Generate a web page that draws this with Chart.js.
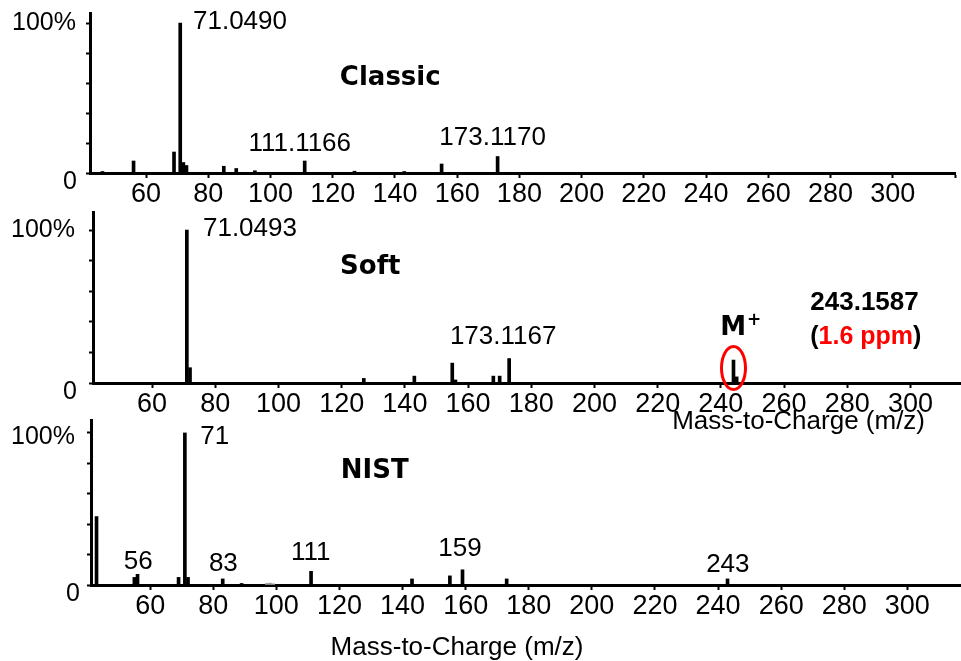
<!DOCTYPE html>
<html>
<head>
<meta charset="utf-8">
<script src="https://cdn.jsdelivr.net/npm/chart.js@4.4.1/dist/chart.umd.min.js"></script>
<style>
html,body{margin:0;padding:0;background:#fff;overflow:hidden;width:961px;height:661px}
canvas{position:absolute;left:0;top:0}
</style>
</head>
<body>
<canvas id="c1" width="961" height="661"></canvas>
<canvas id="c2" width="961" height="661"></canvas>
<canvas id="c3" width="961" height="661"></canvas>
<script>
// ---------- data ----------
const classicMz  = [46, 56, 69, 71, 72, 73, 85, 89, 95, 111, 127, 143, 155, 173];
const classicInt = [1, 8, 14, 100, 7, 5, 4.5, 3, 1.5, 8, 1.2, 1, 6, 11];

const softMz  = [71, 72, 127, 143, 155, 156, 168, 170, 173, 244, 245];
const softInt = [100, 10, 3, 4.5, 13, 2, 4.5, 4.5, 16, 15, 4];

const nistMz  = [43, 55, 56, 69, 71, 72, 83, 89, 111, 143, 155, 159, 173, 243];
const nistInt = [45, 5, 7, 5, 100, 5, 4, 1, 9, 4, 6, 10, 4, 4];
const nistMinorMz  = [97, 98, 99];
const nistMinorInt = [1, 1.2, 0.8];

const xTicks = [60, 80, 100, 120, 140, 160, 180, 200, 220, 240, 260, 280, 300];
const xTicksClassic = [60, 80, 100, 120, 140, 160, 180, 200, 220, 240, 260, 280, 300, 320];
const yTicks = [0, 20, 40, 60, 80, 100];
const yTickLabels = ['0', '100%'];
const axisTitle = 'Mass-to-Charge (m/z)';

// ---------- helpers ----------
const REG = 'Liberation Sans, Arial, sans-serif';
const LBL = '26px ' + REG;
const YLBL = '25px ' + REG;
const TTL = 'bold 26px DejaVu Sans, sans-serif';

function pts(xs, ys) { return xs.map((x, i) => ({x: x, y: ys[i]})); }

const annotPlugin = {
  id: 'annot',
  afterDraw(chart, args, opts) {
    const ctx = chart.ctx, xs = chart.scales.x, ys = chart.scales.y, ca = chart.chartArea;
    ctx.save();
    ctx.textBaseline = 'middle';
    (opts.items || []).forEach(it => {
      if (it.ylabel !== undefined) {
        ctx.font = YLBL; ctx.fillStyle = '#000'; ctx.textAlign = 'right';
        ctx.fillText(it.ylabel, ca.left - it.off, ys.getPixelForValue(it.v) + (it.dy || 0));
        return;
      }
      const px = xs.getPixelForValue(it.x), py = ys.getPixelForValue(it.y);
      if (it.ellipse) {
        ctx.strokeStyle = '#ff0000'; ctx.lineWidth = 3;
        ctx.beginPath(); ctx.ellipse(px, py, it.rx, it.ry, 0, 0, Math.PI * 2); ctx.stroke();
        return;
      }
      if (it.segs) {
        ctx.font = it.font || LBL; ctx.textAlign = 'left';
        let cx = px;
        it.segs.forEach(s => { ctx.fillStyle = s.c; ctx.fillText(s.t, cx, py); cx += ctx.measureText(s.t).width; });
        return;
      }
      ctx.font = it.font || LBL; ctx.fillStyle = it.color || '#000'; ctx.textAlign = it.align || 'left';
      ctx.fillText(it.t, px, py);
      if (it.sup) {
        const w = ctx.measureText(it.t).width;
        ctx.font = it.supFont; ctx.textAlign = 'left';
        ctx.fillText(it.sup, px + w + 1, py - 8);
      }
    });
    ctx.restore();
  }
};

function makeChart(id, cfg) {
  const H = 40;
  return new Chart(document.getElementById(id), {
    type: 'bar',
    data: { datasets: cfg.datasets.map(d => Object.assign({
      backgroundColor: '#000', borderWidth: 0, barThickness: 3, grouped: false
    }, d)) },
    options: {
      responsive: false, animation: false, devicePixelRatio: 1,
      layout: { padding: { top: cfg.top, left: 0, right: 961 - cfg.right, bottom: 661 - cfg.zero - H } },
      plugins: { legend: { display: false }, tooltip: { enabled: false }, annot: { items: cfg.items } },
      scales: {
        x: {
          type: 'linear', min: cfg.xmin, max: cfg.xmax, offset: false,
          afterBuildTicks: s => { s.ticks = cfg.xticks.map(v => ({ value: v })); },
          afterFit: s => { s.height = H; s.paddingLeft = 0; s.paddingRight = 0; },
          ticks: { autoSkip: false, maxRotation: 0, minRotation: 0, color: '#000', padding: 3,
                   font: { family: REG, size: 27, lineHeight: 1 },
                   callback: v => (v > 300 ? '' : String(v)) },
          grid: { display: true, offset: false, drawOnChartArea: false, drawTicks: true, tickLength: 5, tickWidth: 2, color: '#000' },
          border: { display: true, color: '#000', width: 3 }
        },
        y: {
          type: 'linear', min: 0, max: cfg.ymax, offset: false,
          afterBuildTicks: s => { s.ticks = yTicks.map(v => ({ value: v })); },
          afterFit: s => { s.width = cfg.axis; s.paddingTop = 0; s.paddingBottom = 0; },
          ticks: { display: false },
          grid: { display: true, offset: false, drawOnChartArea: false, drawTicks: true, tickLength: 4, tickWidth: 2, color: '#000' },
          border: { display: true, color: '#000', width: 3 }
        }
      }
    },
    plugins: [annotPlugin]
  });
}

// ---------- Classic ----------
makeChart('c1', {
  top: 13, zero: 173, right: 955, axis: 90, xmin: 42, xmax: 320, ymax: 106.7, xticks: xTicksClassic,
  datasets: [{ data: pts(classicMz, classicInt) }],
  items: [
    { ylabel: yTickLabels[1], v: 100, off: 14, dy: 0 },
    { ylabel: yTickLabels[0], v: 0, off: 13, dy: 9 },
    { t: '71.0490', x: 75.1, y: 100.7 },
    { t: 'Classic', x: 122.3, y: 63.3, font: TTL },
    { t: '111.1166', x: 109.4, y: 19.3, align: 'center' },
    { t: '173.1170', x: 171.4, y: 23.3, align: 'center' }
  ]
});

// ---------- Soft ----------
makeChart('c2', {
  top: 212, zero: 383, right: 961, axis: 93, xmin: 41.3, xmax: 316, ymax: 111.8, xticks: xTicks,
  datasets: [{ data: pts(softMz, softInt) }],
  items: [
    { ylabel: yTickLabels[1], v: 100, off: 18, dy: 0 },
    { ylabel: yTickLabels[0], v: 0, off: 16, dy: 9 },
    { t: '71.0493', x: 76.1, y: 100.7 },
    { t: 'Soft', x: 119.5, y: 75.8, font: TTL },
    { t: '173.1167', x: 171.1, y: 30, align: 'center' },
    { t: 'M', x: 239.8, y: 35.9, font: TTL, sup: '+', supFont: 'bold 17px DejaVu Sans, sans-serif' },
    { ellipse: true, x: 244, y: 9.8, rx: 12, ry: 21.5 },
    { t: '243.1587', x: 268.3, y: 52.3, font: 'bold 26px ' + REG },
    { segs: [{ t: '(', c: '#000' }, { t: '1.6 ppm', c: '#ff0000' }, { t: ')', c: '#000' }], x: 268.3, y: 30, font: 'bold 25px ' + REG },
    { t: axisTitle, x: 224.6, y: -25.5, font: '26px ' + REG }
  ]
});

// ---------- NIST ----------
makeChart('c3', {
  top: 420, zero: 585, right: 961, axis: 91, xmin: 41.25, xmax: 317, ymax: 108.5, xticks: xTicks,
  datasets: [
    { data: pts(nistMz, nistInt) },
    { data: pts(nistMinorMz, nistMinorInt), backgroundColor: '#9a9a9a' }
  ],
  items: [
    { ylabel: yTickLabels[1], v: 100, off: 16, dy: 4 },
    { ylabel: yTickLabels[0], v: 0, off: 11, dy: 9 },
    { t: '71', x: 75.9, y: 97.4 },
    { t: 'NIST', x: 120.4, y: 75, font: TTL },
    { t: '56', x: 56.2, y: 15.1, align: 'center' },
    { t: '83', x: 83.2, y: 13.8, align: 'center' },
    { t: '111', x: 110.9, y: 21, align: 'center' },
    { t: '159', x: 158.2, y: 23.7, align: 'center' },
    { t: '243', x: 243.1, y: 13.2, align: 'center' },
    { t: axisTitle, x: 117.2, y: -41.4, font: '26px ' + REG }
  ]
});
</script>
</body>
</html>
